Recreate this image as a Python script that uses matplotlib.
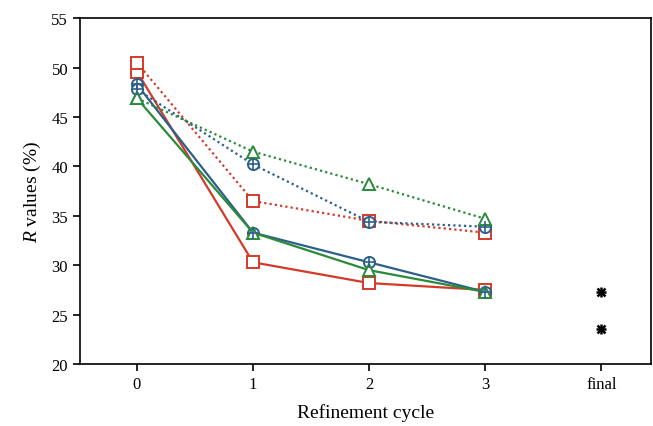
import matplotlib
matplotlib.use("Agg")
import matplotlib.pyplot as plt
import numpy as np

plt.rcParams.update({
    "font.family": "serif", "font.serif": ["Liberation Serif", "DejaVu Serif"],
    "mathtext.fontset": "custom", "mathtext.it": "Liberation Serif:italic",
    "mathtext.rm": "Liberation Serif",
    "font.size": 12, "axes.linewidth": 1.2,
    "xtick.direction": "out", "ytick.direction": "out",
})

cycles = ["0", "1", "2", "3", "final"]
x = np.arange(4)

red_solid = [49.6, 30.3, 28.2, 27.5]
red_dot = [50.5, 36.5, 34.5, 33.3]
blue_solid = [48.3, 33.3, 30.3, 27.3]
blue_dot = [47.8, 40.2, 34.4, 33.9]
green_solid = [46.9, 33.3, 29.5, 27.3]
green_dot = [46.9, 41.5, 38.2, 34.7]
final_vals = [27.3, 23.6]

RED, BLUE, GREEN = "#d43a2a", "#2c5f8c", "#2a8a3a"

fig = plt.figure(figsize=(6.53, 4.27), dpi=100)
ax = fig.add_axes([0.1225, 0.145, 0.875, 0.81])

kw = dict(lw=1.6, ms=8, mfc="white", mew=1.4)
dkw = dict(lw=1.6, ls=(0, (1.0, 1.4)), ms=8, mfc="white", mew=1.4)

ax.plot(x, red_solid, color=RED, marker="s", **kw, zorder=3)
ax.plot(x, red_dot, color=RED, marker="s", **dkw, zorder=3)
ax.plot(x, blue_solid, color=BLUE, marker="o", **kw, zorder=3)
ax.plot(x, blue_solid, color=BLUE, marker="+", ls="none", ms=8, mew=1.2, zorder=4)
ax.plot(x, blue_dot, color=BLUE, marker="o", **dkw, zorder=3)
ax.plot(x, blue_dot, color=BLUE, marker="+", ls="none", ms=8, mew=1.2, zorder=4)
ax.plot(x, green_solid, color=GREEN, marker="^", **kw, zorder=3)
ax.plot(x, green_dot, color=GREEN, marker="^", **dkw, zorder=3)

ax.plot([4] * len(final_vals), final_vals, ls="none", marker="x", color="black", ms=6, mew=1.8, zorder=4)
ax.plot([4] * len(final_vals), final_vals, ls="none", marker="+", color="black", ms=7.5, mew=1.8, zorder=4)

ax.set_xlim(-0.49, 4.43)
ax.set_ylim(20, 55)
ax.set_xticks(range(5))
ax.set_xticklabels(cycles)
ax.set_yticks(range(20, 56, 5))
ax.tick_params(length=5, width=1.2, labelsize=12)
ax.set_xlabel("Refinement cycle", fontsize=14, labelpad=8)
ax.set_ylabel(r"$\mathit{R}$ values (%)", fontsize=14, labelpad=6)

fig.savefig("out.png", dpi=100)
